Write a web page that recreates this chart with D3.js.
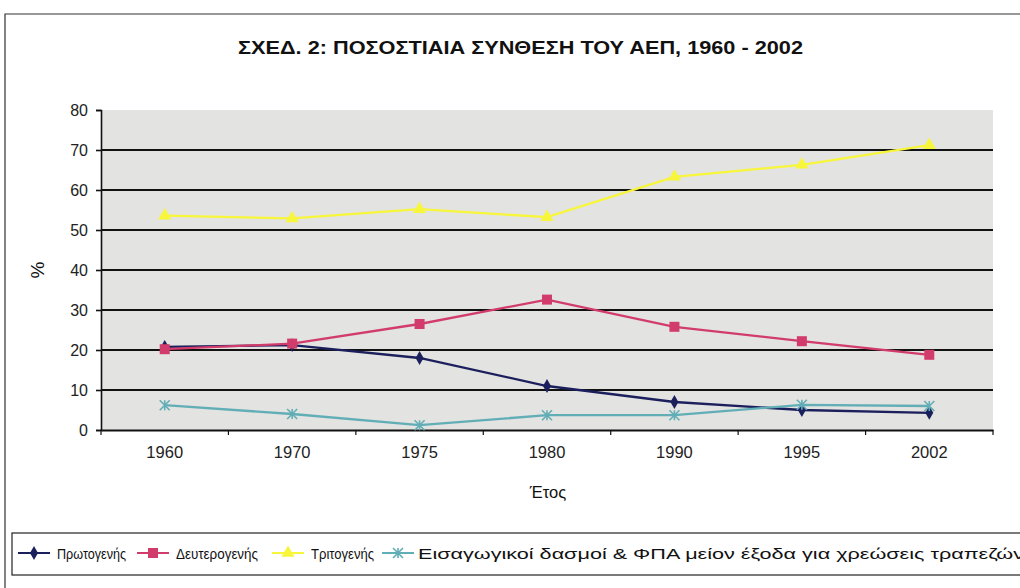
<!DOCTYPE html>
<html>
<head>
<meta charset="utf-8">
<script src="https://cdn.jsdelivr.net/npm/d3@7"></script>
<style>
  body { margin: 0; background: #fff; }
  svg { display: block; }
  text { font-family: "Liberation Sans", Arial, sans-serif; fill: #111; }
</style>
</head>
<body>
<svg id="chart" width="1020" height="588"></svg>
<script>
"use strict";

// data
var years = ["1960", "1970", "1975", "1980", "1990", "1995", "2002"];
var primary   = [20.8, 21.2, 18, 11, 7, 5, 4.3];
var secondary = [20.2, 21.6, 26.5, 32.6, 25.8, 22.2, 18.8];
var tertiary  = [53.6, 52.9, 55.2, 53.2, 63.3, 66.3, 71.2];
var imports   = [6.2, 4, 1.2, 3.7, 3.7, 6.3, 6];
var seriesNames = ["Πρωτογενής", "Δευτερογενής", "Τριτογενής",
    "Εισαγωγικοί δασμοί & ΦΠΑ μείον έξοδα για χρεώσεις τραπεζών"];
var yTicks = [0, 10, 20, 30, 40, 50, 60, 70, 80];

var series = [
    { name: seriesNames[0], values: primary,   color: "#1b1f5c", mark: "diamond" },
    { name: seriesNames[1], values: secondary, color: "#d23c6c", mark: "square" },
    { name: seriesNames[2], values: tertiary,  color: "#f8f63a", mark: "triangle" },
    { name: seriesNames[3], values: imports,   color: "#62aeb6", mark: "cross" }
];

var svg = d3.select("#chart");
var plotL = 101, plotR = 993, plotT = 110, plotB = 430;

// outer frame
svg.append("path")
    .attr("d", "M5,588 L5,14 L1020,14")
    .attr("fill", "none")
    .attr("stroke", "#333")
    .attr("stroke-width", 1.2);

svg.append("text")
    .attr("x", 238).attr("y", 54)
    .attr("textLength", 565)
    .attr("lengthAdjust", "spacingAndGlyphs")
    .style("font-size", "19px")
    .style("font-weight", "bold")
    .text("ΣΧΕΔ. 2: ΠΟΣΟΣΤΙΑΙΑ ΣΥΝΘΕΣΗ ΤΟΥ ΑΕΠ, 1960 - 2002");

var x = d3.scaleBand().domain(years).range([plotL, plotR]);
var y = d3.scaleLinear().domain([0, 80]).range([plotB, plotT]);

// plot background
svg.append("rect")
    .attr("x", plotL).attr("y", plotT)
    .attr("width", plotR - plotL).attr("height", plotB - plotT)
    .attr("fill", "#e3e3e1");

// gridlines
svg.append("g")
    .selectAll("line")
    .data(yTicks.filter(d => d > 0 && d < 80))
    .enter().append("line")
    .attr("x1", plotL).attr("x2", plotR)
    .attr("y1", d => y(d)).attr("y2", d => y(d))
    .attr("stroke", "#111").attr("stroke-width", 2);

// y axis
var yAxis = svg.append("g")
    .attr("transform", "translate(" + plotL + ",0)")
    .call(d3.axisLeft(y).tickValues(yTicks).tickSize(5).tickPadding(8));
yAxis.select(".domain").attr("stroke", "#111").attr("stroke-width", 1.6);
yAxis.selectAll(".tick line").attr("stroke", "#111").attr("stroke-width", 1.6);
yAxis.selectAll("text").style("font-size", "16px").style("fill", "#222");

// x axis, ticks on band boundaries
var xAxis = svg.append("g")
    .attr("transform", "translate(0," + plotB + ")")
    .call(d3.axisBottom(x).tickSize(0).tickPadding(16));
xAxis.select(".domain").attr("stroke", "#111").attr("stroke-width", 2);
xAxis.selectAll("text").style("font-size", "16.5px").style("fill", "#222");
xAxis.selectAll(".edge")
    .data(d3.range(years.length + 1))
    .enter().append("line")
    .attr("x1", i => plotL + i * x.step()).attr("x2", i => plotL + i * x.step())
    .attr("y1", 0).attr("y2", 5)
    .attr("stroke", "#111").attr("stroke-width", 1.2);

svg.append("text")
    .attr("x", 548).attr("y", 498)
    .attr("text-anchor", "middle")
    .style("font-size", "16.5px")
    .text("Έτος");

svg.append("text")
    .attr("transform", "translate(44,270) rotate(-90)")
    .attr("text-anchor", "middle")
    .style("font-size", "19px")
    .text("%");

var cx = d => x(d) + x.bandwidth() / 2;
var line = d3.line().x((d, i) => cx(years[i])).y(d => y(d));

function marker(g, kind, color) {
    if (kind == "diamond") {
        g.append("path").attr("d", d3.symbol(d3.symbolDiamond, 55)()).attr("fill", color);
    } else if (kind == "square") {
        g.append("rect").attr("x", -5).attr("y", -5).attr("width", 10).attr("height", 10).attr("fill", color);
    } else if (kind == "triangle") {
        g.append("path").attr("d", d3.symbol(d3.symbolTriangle, 75)()).attr("fill", color);
    } else {
        g.append("path").attr("d", "M-5,-5L5,5M-5,5L5,-5M0,-5L0,5")
            .attr("stroke", color).attr("stroke-width", 1.6);
    }
}

var plot = svg.append("g");
series.forEach(function (s) {
    plot.append("path")
        .datum(s.values)
        .attr("d", line)
        .attr("fill", "none")
        .attr("stroke", s.color)
        .attr("stroke-width", 2.3);
    s.values.forEach(function (v, i) {
        var g = plot.append("g").attr("transform", "translate(" + cx(years[i]) + "," + y(v) + ")");
        marker(g, s.mark, s.color);
    });
});

// legend
svg.append("rect")
    .attr("x", 12).attr("y", 533)
    .attr("width", 1020).attr("height", 42)
    .attr("fill", "#fff")
    .attr("stroke", "#222").attr("stroke-width", 1.2);

var legendX = [18, 137, 272, 382];
var legendW = [69, 82, 63, 606];   // label widths as they appear in the original
var legend = svg.append("g").selectAll("g")
    .data(series)
    .enter().append("g")
    .attr("transform", (d, i) => "translate(" + legendX[i] + ",553)");
legend.append("line")
    .attr("x1", 0).attr("x2", 32)
    .attr("stroke", d => d.color)
    .attr("stroke-width", 2);
legend.each(function (d) {
    var g = d3.select(this).append("g").attr("transform", "translate(16,0)");
    marker(g, d.mark, d.color);
});
legend.append("text")
    .attr("x", (d, i) => i == 3 ? 36 : 39).attr("y", 6)
    .attr("textLength", (d, i) => legendW[i])
    .attr("lengthAdjust", "spacingAndGlyphs")
    .style("font-size", (d, i) => i == 3 ? "14.5px" : "14px")
    .text(d => d.name);
</script>
</body>
</html>
